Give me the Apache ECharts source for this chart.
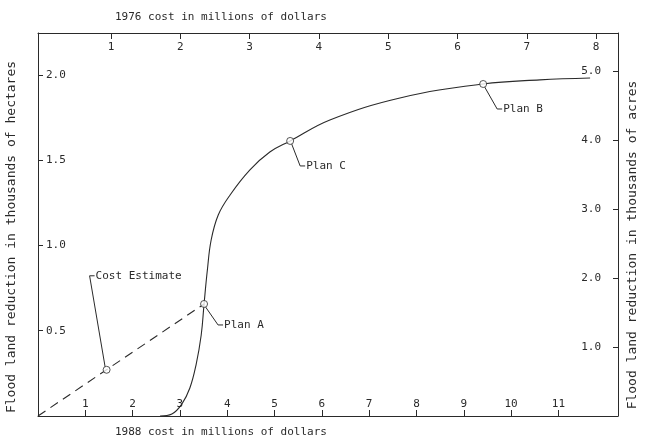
<!DOCTYPE html>
<html><head><meta charset="utf-8">
<script src="https://cdn.jsdelivr.net/npm/echarts@6/dist/echarts.min.js"></script>
<style>html,body{margin:0;padding:0;background:#fff}#c{width:645px;height:439px}</style>
</head><body><div id="c"></div>
<script>
// Benefit curve: 1988 cost (millions $) vs flood land reduction (thousand ha)
const curveX = [2.58, 2.83, 3.04, 3.21, 3.34, 3.45, 3.51, 3.58, 3.66, 3.81, 4.06, 4.48, 4.90, 5.33, 6.17, 7.65, 9.41, 10.61, 11.67];
const curveY = [0, 0.012, 0.070, 0.164, 0.299, 0.475, 0.657, 0.856, 1.032, 1.179, 1.296, 1.443, 1.548, 1.613, 1.736, 1.865, 1.947, 1.971, 1.982];
// Cost estimate dashed line
const estimateX = [0, 3.51];
const estimateY = [0, 0.657];
// Labelled points
const pointNames = ['Cost Estimate', 'Plan A', 'Plan C', 'Plan B'];
const pointX = [1.45, 3.51, 5.33, 9.41];
const pointY = [0.271, 0.657, 1.613, 1.947];
// Tick labels
const ticks1988 = [1, 2, 3, 4, 5, 6, 7, 8, 9, 10, 11];
const ticks1976 = [1, 2, 3, 4, 5, 6, 7, 8];
const ticksHa = [0.5, 1.0, 1.5, 2.0];
const ticksAcres = [1, 2, 3, 4, 5];
const nameTop = '1976 cost in millions of dollars';
const nameBottom = '1988 cost in millions of dollars';
const nameLeft = 'Flood land reduction in thousands of hectares';
const nameRight = 'Flood land reduction in thousands of acres';

const INK = '#2a2a2a';
const FONT = 'DejaVu Sans Mono';
const chart = echarts.init(document.getElementById('c'), null, {renderer: 'canvas'});

const lineStyle = {color: INK, width: 1};
const lblStyle = {color: INK, fontFamily: FONT, fontSize: 11};

chart.setOption({
  animation: false,
  backgroundColor: '#fff',
  grid: {left: 38, right: 27, top: 33, bottom: 23},
  xAxis: [
    {type: 'value', position: 'bottom', min: 0, max: 12.26,
     axisLine: {show: true, onZero: false, lineStyle}, splitLine: {show: false},
     axisTick: {show: true, inside: true, length: 6, lineStyle, customValues: ticks1988},
     axisLabel: Object.assign({inside: true, margin: 6, customValues: ticks1988, formatter: v => String(v)}, lblStyle)},
    {type: 'value', position: 'top', min: -0.053, max: 8.316,
     axisLine: {show: true, onZero: false, lineStyle}, splitLine: {show: false},
     axisTick: {show: true, inside: true, length: 6, lineStyle, customValues: ticks1976},
     axisLabel: Object.assign({inside: true, margin: 9, customValues: ticks1976, formatter: v => String(v)}, lblStyle)}
  ],
  yAxis: [
    {type: 'value', position: 'left', min: 0, max: 2.246,
     axisLine: {show: true, onZero: false, lineStyle}, splitLine: {show: false},
     axisTick: {show: true, inside: true, length: 5, lineStyle, customValues: ticksHa},
     axisLabel: Object.assign({inside: true, margin: 8, customValues: ticksHa, formatter: v => v.toFixed(1)}, lblStyle)},
    {type: 'value', position: 'right', min: 0, max: 5.56,
     axisLine: {show: true, onZero: false, lineStyle}, splitLine: {show: false},
     axisTick: {show: true, inside: true, length: 5, lineStyle, customValues: ticksAcres},
     axisLabel: Object.assign({inside: true, margin: 17, customValues: ticksAcres, formatter: v => v.toFixed(1)}, lblStyle)}
  ],
  series: [
    {type: 'line', xAxisIndex: 0, yAxisIndex: 0, smooth: 0.4, symbol: 'none',
     lineStyle: {color: INK, width: 1.1},
     data: curveX.map((x, i) => [x, curveY[i]])},
    {type: 'line', xAxisIndex: 0, yAxisIndex: 0, symbol: 'none',
     lineStyle: {color: INK, width: 1.1, type: [9, 6]},
     data: estimateX.map((x, i) => [x, estimateY[i]])},
    {type: 'scatter', xAxisIndex: 0, yAxisIndex: 0, symbol: 'circle', symbolSize: 7, z: 5,
     itemStyle: {color: '#fff', borderColor: INK, borderWidth: 1},
     data: pointX.map((x, i) => [x, pointY[i]])}
  ]
});

// leader lines and point labels, anchored at the library's pixel positions
const leaderOffsets = [[-17, -94], [14, 21], [10, 25], [14, 25]];
const graphics = [];
pointNames.forEach((name, i) => {
  const p = chart.convertToPixel({xAxisIndex: 0, yAxisIndex: 0}, [pointX[i], pointY[i]]);
  const d = leaderOffsets[i];
  const ex = p[0] + d[0], ey = p[1] + d[1];
  const sx = p[0] + (d[0] > 0 ? 1.5 : -1.5), sy = p[1] + (d[1] > 0 ? 3 : -3);
  graphics.push({type: 'polyline', silent: true,
    shape: {points: [[sx, sy], [ex, ey], [ex + 5, ey]]},
    style: {stroke: INK, lineWidth: 1, fill: null}});
  graphics.push({type: 'text', silent: true, x: ex + 6, y: ey,
    style: {text: name, fill: INK, font: '11px "' + FONT + '"', verticalAlign: 'middle'}});
});
graphics.push({type: 'text', silent: true, x: 115, y: 17,
  style: {text: nameTop, fill: INK, font: '11px "' + FONT + '"', verticalAlign: 'middle'}});
graphics.push({type: 'text', silent: true, x: 115, y: 432,
  style: {text: nameBottom, fill: INK, font: '11px "' + FONT + '"', verticalAlign: 'middle'}});
graphics.push({type: 'text', silent: true, x: 12, y: 237, rotation: Math.PI / 2,
  style: {text: nameLeft, fill: INK, font: '13px "' + FONT + '"', align: 'center', verticalAlign: 'middle'}});
graphics.push({type: 'text', silent: true, x: 633, y: 245, rotation: Math.PI / 2,
  style: {text: nameRight, fill: INK, font: '13px "' + FONT + '"', align: 'center', verticalAlign: 'middle'}});
chart.setOption({graphic: graphics});
</script></body></html>
